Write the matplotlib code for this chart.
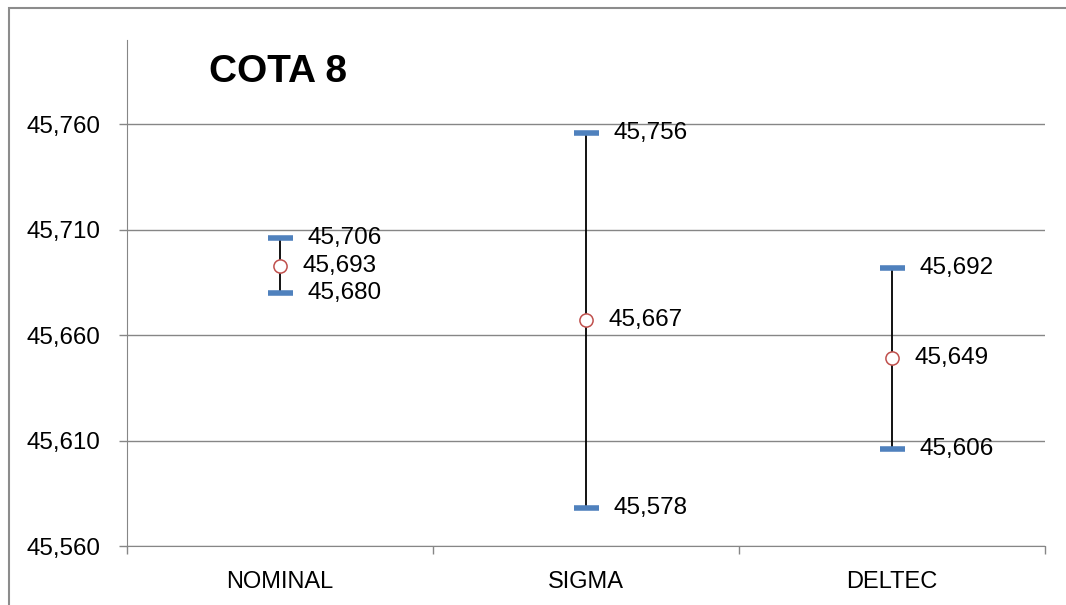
import matplotlib
matplotlib.use("Agg")
import matplotlib.pyplot as plt
from matplotlib.patches import Rectangle

# data
categories = ["NOMINAL", "SIGMA", "DELTEC"]
high = [45.706, 45.756, 45.692]
low = [45.680, 45.578, 45.606]
close = [45.693, 45.667, 45.649]
yticks = [45.560, 45.610, 45.660, 45.710, 45.760]

plt.rcParams['font.family'] = ['Liberation Sans', 'DejaVu Sans']

def fmt(v):
    return "{:.3f}".format(v).replace(".", ",")

fig = plt.figure(figsize=(10.66, 6.05), dpi=100)
ax = fig.add_axes([0.1191, 0.0975, 0.8612, 0.8364])

x = list(range(len(categories)))
blue = '#4F81BD'
red = '#C0504D'
grid = '#868686'

ax.vlines(x, low, high, color='black', lw=1.3, zorder=2)
ax.plot(x, high, ls='none', marker='_', ms=18, mew=4, color=blue, zorder=3)
ax.plot(x, low, ls='none', marker='_', ms=18, mew=4, color=blue, zorder=3)
ax.plot(x, close, ls='none', marker='o', ms=9.5, mfc='white', mec=red, mew=1.1, zorder=4)

for i in x:
    ax.annotate(fmt(high[i]), (i, high[i]), xytext=(20, 0), textcoords='offset points',
                va='center', ha='left', fontsize=17.5)
    ax.annotate(fmt(low[i]), (i, low[i]), xytext=(20, 0), textcoords='offset points',
                va='center', ha='left', fontsize=17.5)
    ax.annotate(fmt(close[i]), (i, close[i]), xytext=(16, 0), textcoords='offset points',
                va='center', ha='left', fontsize=17.5)

ax.set_xlim(-0.5, 2.5)
ax.set_ylim(45.560, 45.800)
ax.set_yticks(yticks)
ax.set_yticklabels([fmt(v) for v in yticks], fontsize=17.4)
ax.set_xticks(x)
ax.set_xticklabels(categories, fontsize=17)
ax.tick_params(axis='x', length=0, pad=18)
ax.tick_params(axis='y', length=5.5, width=1, color=grid, pad=14, direction='out')
ax.set_xticks([-0.5, 0.5, 1.5, 2.5], minor=True)
ax.tick_params(axis='x', which='minor', length=5.5, width=1, color=grid, direction='out')
ax.grid(axis='y', color=grid, lw=1)
ax.set_axisbelow(True)

for s in ['top', 'right']:
    ax.spines[s].set_visible(False)
ax.spines['left'].set_color(grid)
ax.spines['bottom'].set_color(grid)

fig.text(0.261, 0.881, "COTA 8", fontsize=28, fontweight='bold', ha='center', va='center')

# outer chart border (cropped on the right/bottom)
fig.patches.append(Rectangle((9 / 1066, -0.1), 1.2, 0.1 + 1 - 8 / 605, transform=fig.transFigure,
                             fill=False, edgecolor='#8c8c8c', lw=1.5))

fig.savefig("out.png", dpi=100)
